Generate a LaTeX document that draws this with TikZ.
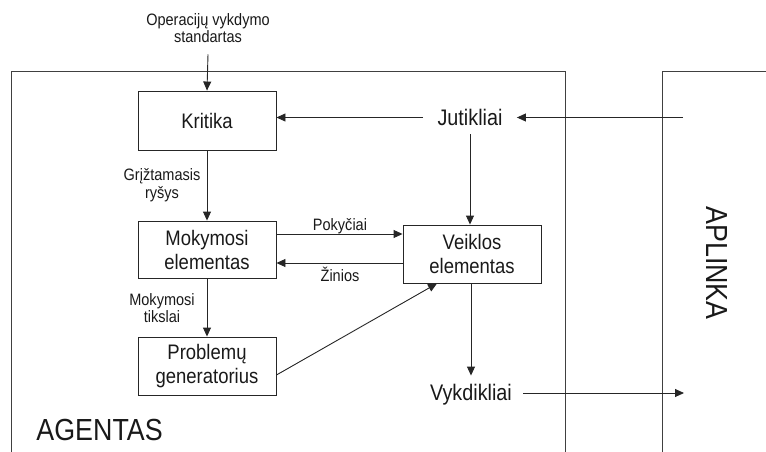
\documentclass[tikz,border=0pt]{standalone}
\usepackage{fontspec}
\setmainfont{Liberation Sans}
\newfontfamily\narrowsans[FakeStretch=0.88]{Liberation Sans}
\usetikzlibrary{arrows.meta}
\begin{document}
\begin{tikzpicture}[x=1pt,y=-1pt,
  line width=0.9pt,
  every node/.style={text=black!90},
  frame/.style={draw=black!75, line width=1pt},
  unit/.style={draw=black!85, minimum width=138pt, minimum height=58pt, inner sep=0pt, align=center,
    font=\narrowsans\fontsize{21}{24}\selectfont},
  io/.style={font=\narrowsans\fontsize{22.5}{26}\selectfont, anchor=base, text height=15pt, text depth=0pt},
  small/.style={font=\narrowsans\fontsize{16.5}{17.5}\selectfont, align=center, inner sep=0pt},
  big/.style={font=\narrowsans\fontsize{30.5}{34}\selectfont, inner sep=0pt},
  flow/.style={draw=black!85, -{Triangle[length=9pt,width=8pt]}}]
\useasboundingbox (0,0) rectangle (766,452);

% agent and environment frames
\draw[frame] (11,452) -- (11,72) -- (565,72) -- (565,452);
\draw[frame] (662,452) -- (662,72) -- (766,72);

% agent units
\node[unit, minimum height=59pt] (krit) at (207,120.5) {Kritika};
\node[unit, minimum height=57pt] (mok) at (207,249.5) {Mokymosi\\elementas};
\node[unit] (prob) at (207,366) {Problemų\\generatorius};
\node[unit] (veik) at (472,254) {Veiklos\\elementas};

% sensors and effectors
\node[io, inner xsep=14pt, inner ysep=9pt] (jut) at (470,125) {Jutikliai};
\node[io, inner xsep=11pt, inner ysep=9.5pt] (vyk) at (471,400.5) {Vykdikliai};
\coordinate (envin) at (683,117.5);
\coordinate (envout) at (684,393);

% labels
\node[small] (std) at (208,28) {Operacijų vykdymo\\standartas};
\node[small] (grl) at (162,185) {Grįžtamasis\\ryšys};
\node[small] (tikl) at (162,308) {Mokymosi\\tikslai};
\node[small] (pokl) at (340,226) {Pokyčiai};
\node[small] (zinl) at (340,274) {Žinios};
\node[big, anchor=west] (agent) at (36,430) {AGENTAS};
\node[big, rotate=-90] (env) at (717,263) {APLINKA};

% connectors
\draw[flow] ([yshift=-11pt]std.south) -- (krit.north);
\draw[flow] (jut.west) -- (jut.west -| krit.east);
\draw[flow] (envin) -- (jut.east);
\draw[flow] (krit.south) -- (mok.north);
\draw[flow] (mok.south) -- (prob.north);
\coordinate (pk) at ([yshift=15.5pt]mok.east);
\draw[flow] (pk) -- (pk -| veik.west);
\coordinate (zn) at ([yshift=-9pt]veik.west);
\draw[flow] (zn) -- (zn -| mok.east);
\draw[flow] ([yshift=-9pt]prob.east) -- ([xshift=-35pt]veik.south);
\draw[flow] (jut.south) -- (jut.south |- veik.north);
\draw[flow] (veik.south) -- (veik.south -| vyk.north) -- (vyk.north);
\draw[flow] (vyk.east) -- (envout);
\end{tikzpicture}
\end{document}
